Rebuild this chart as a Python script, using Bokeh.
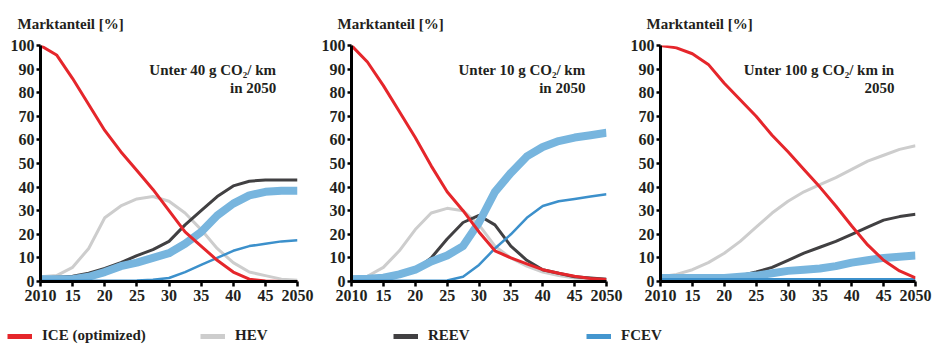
from bokeh.plotting import figure
from bokeh.layouts import row, column
from bokeh.models import Range1d, FixedTicker, Label, Legend, LegendItem
from bokeh.embed import file_html
from bokeh.resources import INLINE

FONT = "Liberation Serif"
TNR = "Times New Roman"
TXT = "#231f20"

years = [2010, 2012.5, 2015, 2017.5, 2020, 2022.5, 2025, 2027.5, 2030,
         2032.5, 2035, 2037.5, 2040, 2042.5, 2045, 2047.5, 2050]

# Panel 1: Unter 40 g CO2/km in 2050
ice_40 = [100, 96, 86, 75, 64, 55, 47, 39, 30, 21, 15, 9, 4, 1, 0.2, 0, 0]
hev_40 = [2, 2.5, 6, 14, 27, 32, 35, 36, 34, 29, 22, 14, 8, 4, 2.5, 1, 0.5]
reev_40 = [1.5, 1.8, 2.2, 3.5, 5.5, 8, 11, 13.5, 17, 24, 30, 36, 40.5, 42.5, 43, 43, 43]
fcev_40 = [1, 1, 1, 2, 4, 6.5, 8, 10, 12, 16, 21, 28, 33, 36.5, 38, 38.5, 38.5]
fcev2_40 = [0.3, 0.3, 0.3, 0.3, 0.3, 0.3, 0.4, 0.7, 1.5, 4, 7, 10, 13, 15, 16, 17, 17.5]

# Panel 2: Unter 10 g CO2/km in 2050
ice_10 = [100, 93, 83, 72, 61, 49, 38, 30, 21, 13, 10, 7.5, 5, 3.5, 2.2, 1.3, 0.8]
hev_10 = [2, 2.2, 6, 13, 22, 29, 31, 30, 24, 15, 10, 6.5, 4, 2.5, 1.5, 1.2, 1]
reev_10 = [1.5, 1.7, 2, 3, 5, 10, 18, 25, 28, 24, 15, 9, 5, 3.5, 2, 1.5, 1]
fcev_10 = [1, 1.2, 1.6, 3, 5, 8.5, 11, 15, 25, 38, 46, 53, 57, 59.5, 61, 62, 63]
fcev2_10 = [0.3, 0.3, 0.3, 0.3, 0.3, 0.3, 0.4, 2, 7, 14, 20, 27, 32, 34, 35, 36, 37]

# Panel 3: Unter 100 g CO2/km in 2050
ice_100 = [100, 99, 96.5, 92, 84, 77, 70, 62, 55, 47.5, 40, 32, 23.5, 15.5, 9, 4.5, 1.5]
hev_100 = [2, 3, 5, 8, 12, 17, 23, 29, 34, 38, 41, 44, 47.5, 51, 53.5, 56, 57.5]
reev_100 = [1.5, 1.5, 1.5, 1.5, 1.5, 2.5, 4, 6, 9, 12, 14.5, 17, 20, 23, 26, 27.5, 28.5]
fcev_100 = [1.5, 1.5, 1.5, 1.5, 1.5, 2, 2.5, 3.5, 4.5, 5, 5.5, 6.5, 8, 9, 10, 10.5, 11]
fcev2_100 = [1, 1, 1, 1, 1, 1, 1, 1, 1, 1, 1, 1, 1, 1, 1, 1, 1]

x_ticks = [2010, 2015, 2020, 2025, 2030, 2035, 2040, 2045, 2050]
x_tick_labels = ["2010", "15", "20", "25", "30", "35", "40", "45", "2050"]
y_ticks = [0, 10, 20, 30, 40, 50, 60, 70, 80, 90, 100]

panels = [
    ("Unter 40 g CO\u2082/ km", "in 2050", ice_40, hev_40, reev_40, fcev_40, fcev2_40),
    ("Unter 10 g CO\u2082/ km", "in 2050", ice_10, hev_10, reev_10, fcev_10, fcev2_10),
    ("Unter 100 g CO\u2082/ km in", "2050", ice_100, hev_100, reev_100, fcev_100, fcev2_100),
]

legend_names = ["ICE (optimized)", "HEV", "REEV", "FCEV"]

C_ICE = "#e5262b"
C_HEV = "#cdcdcd"
C_REEV = "#414042"
C_FCEV_THICK = "#77b5de"
C_FCEV = "#3c90cb"
C_LEG_FCEV = "#4496cf"

widths = [318, 309, 313]
lefts = [40, 31, 31]

figs = []
for i, (t1, t2, ice, hev, reev, fcev, fcev2) in enumerate(panels):
    w = widths[i]
    p = figure(width=w, height=318, output_backend="svg", toolbar_location=None,
               x_range=Range1d(2010, 2050), y_range=Range1d(0, 100),
               min_border_left=lefts[i], min_border_right=w - lefts[i] - 257,
               min_border_top=45, min_border_bottom=37)
    p.outline_line_color = None
    p.grid.visible = False
    p.background_fill_color = "white"
    p.border_fill_color = "white"
    for ax in (p.xaxis[0], p.yaxis[0]):
        ax.axis_line_width = 3
        ax.axis_line_color = "black"
        ax.major_tick_line_width = 2.5
        ax.major_tick_line_color = "black"
        ax.major_tick_in = 0
        ax.minor_tick_line_color = None
        ax.major_label_text_font = TNR
        ax.major_label_text_font_style = "bold"
        ax.major_label_text_font_size = "16px"
        ax.major_label_text_color = TXT
    p.xaxis.ticker = FixedTicker(ticks=x_ticks)
    p.xaxis.major_label_overrides = {t: l for t, l in zip(x_ticks, x_tick_labels)}
    p.xaxis.major_tick_out = 5
    p.xaxis.major_label_standoff = 3
    p.yaxis.ticker = FixedTicker(ticks=y_ticks)
    p.yaxis.major_tick_out = 4
    p.yaxis.major_label_standoff = 2

    p.title.text = "Marktanteil [%]"
    p.title.align = "left"
    p.title.offset = 17 - lefts[i]
    p.title.text_font = TNR
    p.title.text_font_style = "bold"
    p.title.text_font_size = "15px"
    p.title.text_color = TXT
    p.title.standoff = 27

    p.line(years, hev, line_color=C_HEV, line_width=3, line_join="round")
    p.line(years, reev, line_color=C_REEV, line_width=3, line_join="round")
    p.line(years, fcev, line_color=C_FCEV_THICK, line_width=8, line_join="round")
    p.line(years, fcev2, line_color=C_FCEV, line_width=2.5, line_join="round")
    p.line(years, ice, line_color=C_ICE, line_width=3, line_join="round")

    p.add_layout(Label(x=2046.7, y=89.5, text=t1, text_font=FONT,
                       text_font_style="bold", text_font_size="15px", text_color=TXT,
                       text_align="right", text_baseline="middle"))
    p.add_layout(Label(x=2046.7, y=81.8, text=t2, text_font=FONT,
                       text_font_style="bold", text_font_size="15px", text_color=TXT,
                       text_align="right", text_baseline="middle"))
    figs.append(p)

lf = figure(width=940, height=26, output_backend="svg", toolbar_location=None,
            x_range=Range1d(0, 1), y_range=Range1d(0, 1),
            min_border_left=0, min_border_right=0, min_border_top=0, min_border_bottom=0)
lf.axis.visible = False
lf.grid.visible = False
lf.outline_line_color = None
items = []
for name, col in zip(legend_names, [C_ICE, C_HEV, C_REEV, C_LEG_FCEV]):
    r = lf.line([-5, -4], [-5, -5], line_color=col, line_width=5)
    items.append(LegendItem(label=name, renderers=[r]))
leg = Legend(items=items, orientation="horizontal", location=(7, 0),
             glyph_width=25, glyph_height=12, label_standoff=10, label_width=158,
             label_height=12, spacing=0, padding=0, margin=0,
             border_line_color=None, background_fill_alpha=0,
             label_text_font="Liberation Serif, serif", label_text_font_style="bold",
             label_text_font_size="15px", label_text_color=TXT)
lf.add_layout(leg)

layout = column(row(*figs), lf)
open("out.html", "w").write(file_html(layout, INLINE))
